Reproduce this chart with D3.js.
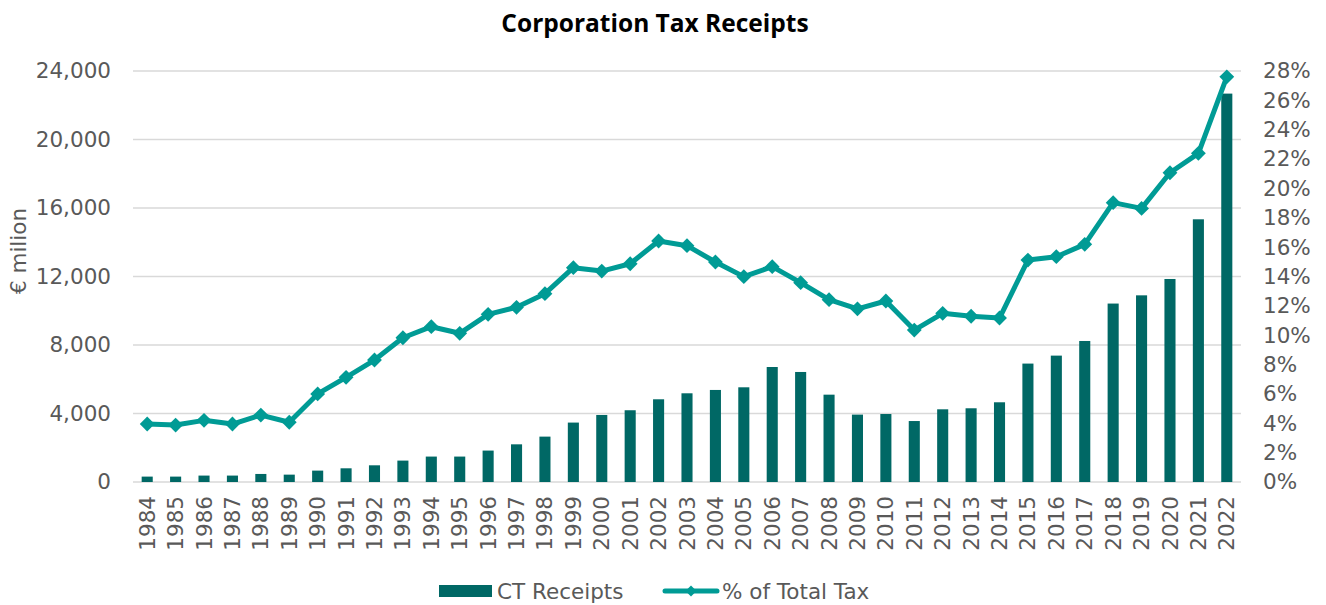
<!DOCTYPE html>
<html>
<head>
<meta charset="utf-8">
<script src="https://cdn.jsdelivr.net/npm/d3@7"></script>
<style>
  body { margin: 0; background: #fff; }
  text { font-family: "DejaVu Sans", Verdana, sans-serif; fill: #595959; }
</style>
</head>
<body>
<svg id="chart" width="1326" height="605"></svg>
<script>
const years = d3.range(1984, 2023).map(String);

// CT receipts, € million
const receipts = [315, 315, 375, 375, 470, 430, 665, 800, 975, 1250,
  1485, 1485, 1835, 2200, 2650, 3470, 3915, 4190, 4830, 5180,
  5375, 5530, 6715, 6425, 5100, 3935, 3970, 3560, 4245, 4305,
  4655, 6915, 7380, 8235, 10420, 10900, 11855, 15340, 22680];

// CT as % of total tax
const shareOfTax = [3.95, 3.88, 4.2, 3.95, 4.56, 4.07, 6.0, 7.13, 8.31, 9.83,
  10.58, 10.13, 11.42, 11.9, 12.83, 14.6, 14.37, 14.87, 16.42, 16.1,
  14.99, 13.99, 14.67, 13.58, 12.42, 11.8, 12.33, 10.35, 11.49, 11.29,
  11.17, 15.12, 15.35, 16.19, 19.03, 18.64, 21.07, 22.39, 27.6];

const leftTicks = d3.range(0, 24001, 4000);
const rightTicks = d3.range(0, 29, 2);

const svg = d3.select("#chart"),
  margin = { top: 71, right: 85, bottom: 123, left: 133 },
  width = +svg.attr("width") - margin.left - margin.right,
  height = +svg.attr("height") - margin.top - margin.bottom;

const barColor = "#006865",
  lineColor = "#009B95",
  fontSize = 21.5;

const chart = svg.append("g")
  .attr("transform", `translate(${margin.left},${margin.top})`);

const x = d3.scaleBand().domain(years).range([0, width]).paddingInner(0.61).paddingOuter(0.305);
const xc = d3.scaleBand().domain(years).range([0, width]);
const yL = d3.scaleLinear().domain([0, 24000]).range([height, 0]);
const yR = d3.scaleLinear().domain([0, 28]).range([height, 0]);

// gridlines
chart.append("g")
  .selectAll("line")
  .data(leftTicks)
  .join("line")
  .attr("x1", 0)
  .attr("x2", width)
  .attr("y1", (d) => yL(d))
  .attr("y2", (d) => yL(d))
  .attr("stroke", "#d9d9d9")
  .attr("stroke-width", 1.5);

// left axis
const leftAxis = chart.append("g")
  .call(d3.axisLeft(yL).tickValues(leftTicks).tickSize(0).tickPadding(22).tickFormat(d3.format(",")));
leftAxis.select(".domain").remove();
leftAxis.selectAll("text").attr("font-size", fontSize).style("fill", "#595959");

// right axis
const rightAxis = chart.append("g")
  .attr("transform", `translate(${width},0)`)
  .call(d3.axisRight(yR).tickValues(rightTicks).tickSize(0).tickPadding(22).tickFormat((d) => d + "%"));
rightAxis.select(".domain").remove();
rightAxis.selectAll("text").attr("font-size", fontSize).style("fill", "#595959");

// x axis labels
const xAxis = chart.append("g")
  .attr("transform", `translate(0,${height})`)
  .call(d3.axisBottom(xc).tickSize(0).tickPadding(0));
xAxis.select(".domain").remove();
xAxis.selectAll("text")
  .attr("font-size", fontSize)
  .style("fill", "#595959")
  .attr("text-anchor", "end")
  .attr("dy", "0.35em")
  .attr("transform", "translate(0,14) rotate(-90)");

// bars
chart.append("g")
  .selectAll("rect")
  .data(receipts)
  .join("rect")
  .attr("x", (d, i) => x(years[i]))
  .attr("y", (d) => yL(d))
  .attr("width", x.bandwidth())
  .attr("height", (d) => height - yL(d))
  .attr("fill", barColor);

// line
const cx = (i) => xc(years[i]) + xc.bandwidth() / 2;
const line = d3.line()
  .x((d, i) => cx(i))
  .y((d) => yR(d));

chart.append("path")
  .datum(shareOfTax)
  .attr("fill", "none")
  .attr("stroke", lineColor)
  .attr("stroke-width", 5)
  .attr("stroke-linejoin", "round")
  .attr("d", line);

chart.append("g")
  .selectAll("path")
  .data(shareOfTax)
  .join("path")
  .attr("transform", (d, i) => `translate(${cx(i)},${yR(d)}) rotate(45)`)
  .attr("d", d3.symbol().type(d3.symbolSquare).size(110))
  .attr("fill", lineColor);

// y title
svg.append("text")
  .attr("transform", "translate(26,251) rotate(-90)")
  .attr("text-anchor", "middle")
  .attr("font-size", fontSize)
  .text("€ milion");

// title
svg.append("text")
  .attr("x", 655)
  .attr("y", 32)
  .attr("text-anchor", "middle")
  .attr("font-size", 24.5)
  .attr("font-weight", "bold")
  .style("font-family", "'Open Sans', sans-serif")
  .style("fill", "#000")
  .text("Corporation Tax Receipts");

// legend
const legend = svg.append("g").attr("transform", "translate(0,591)");
legend.append("rect")
  .attr("x", 439).attr("y", -6).attr("width", 53).attr("height", 12)
  .attr("fill", barColor);
legend.append("text")
  .attr("x", 497).attr("y", 0).attr("dy", "0.35em")
  .attr("font-size", fontSize)
  .text("CT Receipts");
legend.append("line")
  .attr("x1", 665).attr("x2", 717).attr("y1", 0).attr("y2", 0)
  .attr("stroke", lineColor).attr("stroke-width", 5).attr("stroke-linecap", "round");
legend.append("path")
  .attr("transform", "translate(691,0) rotate(45)")
  .attr("d", d3.symbol().type(d3.symbolSquare).size(60))
  .attr("fill", lineColor);
legend.append("text")
  .attr("x", 722).attr("y", 0).attr("dy", "0.35em")
  .attr("font-size", fontSize)
  .text("% of Total Tax");
</script>
</body>
</html>
